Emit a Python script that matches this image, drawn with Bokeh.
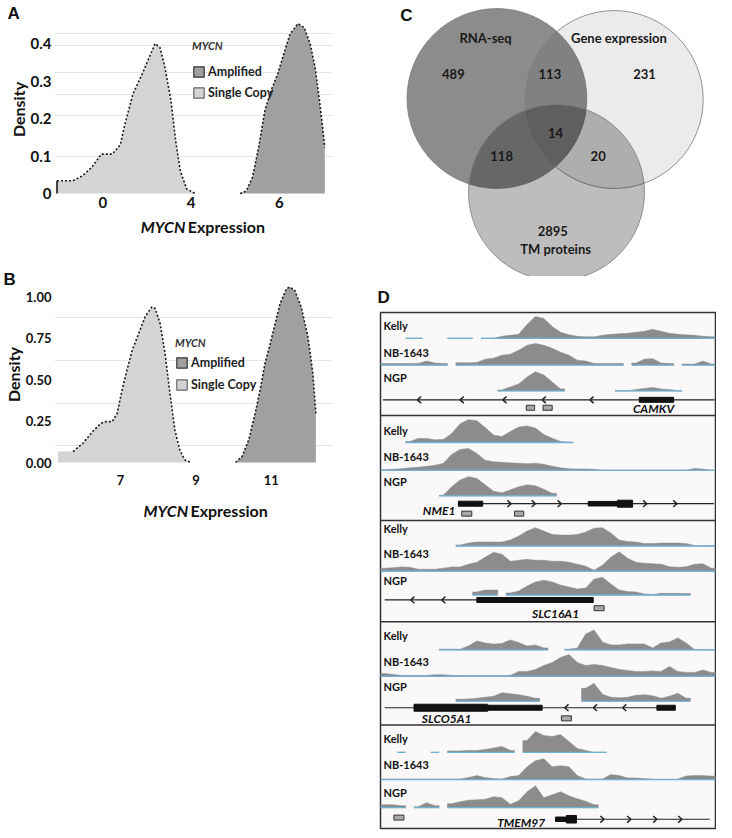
import math
from bokeh.plotting import figure
from bokeh.models import Range1d, FixedTicker, Legend, LegendItem, PrintfTickFormatter
from bokeh.layouts import row, column
from bokeh.embed import file_html
from bokeh.resources import INLINE
from bokeh.core.properties import value

FONT = "Lato"
LETTER_FONT = "Liberation Sans"
NAN = float("nan")

# ---------------- Panel A data (MYCN expression density) ----------------
A_SC_X = [-2.08, -2.08, -1.36, -0.93, -0.50, -0.07, 0.43, 0.79, 1.00, 1.36, 1.79, 2.08, 2.37, 2.58, 2.80, 3.08, 3.30, 3.51, 3.80, 4.09]
A_SC_Y = [0.0, 0.034, 0.034, 0.047, 0.070, 0.105, 0.105, 0.130, 0.185, 0.265, 0.320, 0.360, 0.400, 0.390, 0.340, 0.250, 0.140, 0.060, 0.012, 0.0]
A_AM_X = [5.11, 5.25, 5.39, 5.53, 5.67, 5.81, 5.96, 6.10, 6.24, 6.42, 6.56, 6.70, 6.81, 6.91, 6.98, 7.03, 7.03]
A_AM_Y = [0.0, 0.007, 0.043, 0.123, 0.220, 0.274, 0.318, 0.372, 0.425, 0.453, 0.443, 0.398, 0.336, 0.247, 0.176, 0.123, 0.0]
A_XTICKS = [0, 4, 6]
A_YTICKS = [0, 0.1, 0.2, 0.3, 0.4]
A_YGRID = [0.1, 0.208, 0.264, 0.323, 0.395, 0.427]

# ---------------- Panel B data ----------------
B_SC_X = [5.345, 5.345, 5.74, 6.0, 6.26, 6.48, 6.61, 6.78, 6.91, 7.04, 7.17, 7.31, 7.48, 7.65, 7.83, 7.92, 8.05, 8.18, 8.31, 8.44, 8.57, 8.70, 8.87]
B_SC_Y = [0.0, 0.066, 0.066, 0.116, 0.187, 0.237, 0.247, 0.247, 0.297, 0.438, 0.558, 0.679, 0.779, 0.880, 0.940, 0.930, 0.839, 0.659, 0.418, 0.197, 0.076, 0.016, 0.0]
B_AM_X = [10.05, 10.22, 10.40, 10.57, 10.70, 10.83, 10.97, 11.10, 11.23, 11.40, 11.49, 11.62, 11.79, 11.97, 12.10, 12.18, 12.18]
B_AM_Y = [0.0, 0.036, 0.137, 0.297, 0.438, 0.598, 0.719, 0.839, 0.960, 1.050, 1.060, 1.040, 0.940, 0.759, 0.538, 0.297, 0.0]
B_XTICKS = [7, 9, 11]
B_YTICKS = [0, 0.25, 0.5, 0.75, 1.0]
B_YGRID = [0.10, 0.356, 0.616, 0.877]

LEGEND_LABELS = ["Amplified", "Single Copy"]
AMP_COLOR = "#a0a0a0"
SC_COLOR = "#d4d4d4"

# ---------------- Panel C data (Venn) ----------------
VENN_SETS = ["RNA-seq", "Gene expression", "TM proteins"]
VENN_REGIONS = ["RNA only", "RNA+Gene", "Gene only", "all", "RNA+TM", "Gene+TM", "TM only"]
VENN_COUNTS = [489, 113, 231, 14, 118, 20, 2895]

# ---------------- Panel D data (coverage tracks, 40 bins) ----------------
N = None
CELL_LINES = ["Kelly", "NB-1643", "NGP"]
GENES = ["CAMKV", "NME1", "SLC16A1", "SLCO5A1", "TMEM97"]
TRACKS = [
    [  # CAMKV
        [N, N, N, 0, 0, N, N, N, 0, 0, 0, N, 0, 0, 2, 3, 4, 14, 22, 20, 12, 6, 3.5, 2, 1.5, 1.5, 3, 4, 4.5, 5, 6, 7, 9, 7, 5, 4, 3.5, 3, 2, 1.5],
        [1.5, 1.5, 1.5, 1.7, 1.7, 4, 2, 1.7, N, 2.3, 2.3, 2.5, 6, 7, 10, 11, 15, 20, 21.7, 20, 17, 13, 10, 5, 4, 1.7, 1.7, 1.7, 1.7, N, 2, 6, 6.5, 2, 1.5, N, 1, 1, 4, 1],
        [N, N, N, N, N, N, N, N, N, N, N, N, N, N, 1, 4, 7, 14, 19.3, 16, 9, 2, N, N, N, N, N, N, 0, 0, 1.5, 2.5, 3.5, 2, 1.5, 0, N, N, N, N],
    ],
    [  # NME1
        [N, N, N, 1, 4, 4, 2.7, 3, 9, 19, 23, 22, 15, 7.5, 6, 11, 15.5, 16.7, 14.5, 8, 4.3, 1, 0.3, N, N, N, N, N, N, N, N, N, N, N, N, N, N, N, N, N],
        [0.5, 1, 1.5, 2.5, 3, 4, 5, 7, 16, 21, 22, 17, 10, 8.5, 8, 7.5, 7, 6.7, 7, 6, 4, 2.5, 1.5, 1.3, 1.3, 1, 0, 0, 0, 0, 0, 0, 0, 0, 0, 0, 0, 1.7, 1.2, 0],
        [N, N, N, N, N, N, N, 0.5, 9, 16, 19.3, 17.5, 11, 4.5, 3, 6, 9, 11, 10, 6.5, 2.5, N, N, N, N, N, N, N, N, N, N, N, N, N, N, N, N, N, N, N],
    ],
    [  # SLC16A1
        [N, N, N, N, N, N, N, N, N, 1, 3, 4, 4, 4, 4, 6, 10, 15, 18.5, 15, 11.5, 11, 11, 11.5, 14, 18, 18.5, 13, 6, 4.5, 4, 2.5, 2.5, 3, 3, 3, 2.5, 0.5, 0, 0],
        [3, 3.5, 4.3, 4, 2, 2, 2, 3, 4.3, 4.3, 7, 9, 14, 19, 17, 10, 11, 12, 11, 11, 10, 10, 9, 7, 5, 1, 6, 14, 19.5, 13, 9, 8, 7.5, 7, 4.5, 4, 4.5, 7, 7.5, 3],
        [N, N, N, N, N, N, N, N, N, N, N, 3, 5, 5, N, 2, 4, 9, 13, 15, 13, 10, 8, 6, 7, 16, 18, 11, 5, 3.5, 3, 1, 0.5, 1.7, 1.7, 1.7, 1.5, N, N, N],
    ],
    [  # SLCO5A1
        [N, N, N, N, N, N, N, 0.7, 0.7, 0.7, 4, 9, 7, 6, 6.5, 10, 7.5, 4, 5, 2, N, N, 0.7, 2, 16, 20, 8, 5, 5, 6, 6, 6, 2, 7, 8, 12, 7, 0.5, 0, 0],
        [3, 2, 1, 1, 1, 1, 1.7, 1.7, 1, 0.8, 0.8, 0.8, 0.8, 0.8, 0.8, 1, 5, 5, 7, 11, 14, 19, 22, 14, 11, 12, 11, 9, 7, 6, 5, 5, 5.5, 5, 10, 5, 4, 4, 6.5, 4],
        [N, N, N, N, N, N, N, N, N, 2, 2.3, 3, 4, 5, 8.5, 7.5, 6.5, 5, 3, N, N, N, N, N, 13, 18, 7, 4, 3.5, 4, 6, 6.5, 5.5, 3, 5, 8, 3, N, N, N],
    ],
    [  # TMEM97
        [N, N, 0, N, N, N, 0, N, 1.5, 1.5, 2, 2, 3, 4.5, 6, 2, N, 12, 21, 17, 16, 18, 11, 4, 2, 0, 0, N, N, N, N, N, N, N, N, N, N, N, N, N],
        [0.7, 0.7, 0.7, 0.7, 0.7, 0.7, 0.7, 0.7, 0.7, 0.7, 2, 4, 2, 1, 0.7, 3, 4, 13, 19, 21, 13, 14, 13, 4, 0.7, 0.7, 0.7, 5, 4, 1.7, 1.5, 1, 0.5, 0.5, 0.5, 0.5, 3.5, 4, 4, 3.5],
        [3, 3, 2, N, 1, 5, 2, N, 4, 6, 7.5, 8, 8.5, 11, 10, 3.5, 7, 16, 22, 10, 13, 16, 12, 9, 6.5, 3, N, N, N, N, N, N, N, N, N, N, N, N, N, N],
    ],
]
GENE_LABEL_X = [32.6, 7.0, 20.9, 7.9, 16.8]
GENE_SPAN = [(0.3, 39.9), (9.3, 39.8), (0.5, 25.4), (0.5, 35.2), (20.9, 39.3)]
GENE_EXONS = [
    [(30.9, 35.0, 5)],
    [(9.3, 12.2, 5), (24.8, 28.3, 4.5), (28.3, 30.1, 7)],
    [(11.5, 25.4, 5)],
    [(4.0, 12.8, 7), (12.8, 19.3, 5), (33.0, 35.2, 5)],
    [(20.9, 22.2, 4.5), (22.2, 23.4, 7.5)],
]
GENE_STRAND = ["-", "+", "-", "-", "+"]
GENE_CHEVRONS = [[4.4, 9.5, 14.6, 19.3, 25.0], [15.6, 18.5, 21.6, 31.8, 35.4], [3.6, 7.3], [22.0, 25.4, 28.9], [26.7, 29.9, 33.0, 36.0]]
SITE_BOXES = [[(17.4, 18.4), (19.4, 20.5)], [(9.7, 10.9), (16.0, 17.1)], [(25.5, 26.7)], [(21.6, 22.8)], [(1.6, 2.8)]]

# ---------------- layout constants (page pixels) ----------------
D_SEP_REF = [415.7, 521.7, 623.7, 727.7]
D_BASE_REF = [[338, 365, 391], [443, 471, 496.7], [547.3, 572.7, 596.7], [652, 678.7, 703.7], [755.3, 782.7, 811]]
D_LABEL_Y_REF = [[325, 352, 377], [430.7, 457, 482], [530, 555, 581.7], [637, 663.7, 688.7], [741, 767.7, 796]]
D_GENE_Y_REF = [400, 504.7, 601.7, 710.3, 822.7]
D_GENE_LABEL_Y_REF = [409, 512, 615, 721, 826]
D_BOX_Y_REF = [408, 514.7, 610, 721, 821]


def style_axes(p, size):
    for ax in p.axis:
        ax.axis_line_color = None
        ax.major_tick_line_color = None
        ax.minor_tick_line_color = None
        ax.major_tick_out = 0
        ax.major_tick_in = 0
        ax.major_label_text_font = FONT
        ax.major_label_text_font_style = "bold"
        ax.major_label_text_font_size = size
        ax.major_label_text_color = "#111111"
        ax.axis_label_text_font = FONT
        ax.axis_label_text_font_style = "bold"
        ax.axis_label_text_font_size = "16px"
        ax.axis_label_text_color = "#111111"
        ax.axis_label_standoff = 0


def style_title(p, offset, standoff):
    p.title.align = "left"
    p.title.offset = offset
    p.title.standoff = standoff
    p.title.text_font = LETTER_FONT
    p.title.text_font_style = "bold"
    p.title.text_font_size = "17px"
    p.title.text_color = "#111111"


def add_legend(p, loc, spacing, title_standoff):
    ra = p.quad(left=[NAN], right=[NAN], top=[NAN], bottom=[NAN], fill_color=AMP_COLOR, line_color="#333333", line_width=1.2)
    rs = p.quad(left=[NAN], right=[NAN], top=[NAN], bottom=[NAN], fill_color=SC_COLOR, line_color="#666666", line_width=1.2)
    leg = Legend(items=[LegendItem(label=LEGEND_LABELS[0], renderers=[ra]),
                        LegendItem(label=LEGEND_LABELS[1], renderers=[rs])],
                 location=loc, title="MYCN")
    leg.title_text_font = FONT
    leg.title_text_font_style = "bold italic"
    leg.title_text_font_size = "11px"
    leg.title_text_color = "#333333"
    leg.title_standoff = title_standoff
    leg.label_text_font = FONT
    leg.label_text_font_style = "bold"
    leg.label_text_font_size = "12.5px"
    leg.label_text_color = "#222222"
    leg.glyph_width = 13
    leg.glyph_height = 13
    leg.label_height = 14
    leg.label_standoff = 3
    leg.spacing = spacing
    leg.padding = 0
    leg.margin = 0
    leg.border_line_color = None
    leg.background_fill_alpha = 0
    p.add_layout(leg)


def label_strip(y0, y1, split_x, base_y):
    s = figure(width=362, height=y1 - y0, output_backend="svg", toolbar_location=None,
               x_range=Range1d(8, 370), y_range=Range1d(y1, y0),
               x_axis_location=None, y_axis_location=None, min_border=0)
    s.outline_line_color = None
    s.grid.visible = False
    s.text(x=[split_x - 1.5], y=[base_y], text=["MYCN"], text_font=value(FONT), text_font_style="bold italic",
           text_font_size="16px", text_align="right", text_baseline="alphabetic", text_color="#111111")
    s.text(x=[split_x + 1.5], y=[base_y], text=["Expression"], text_font=value(FONT), text_font_style="bold",
           text_font_size="16px", text_align="left", text_baseline="alphabetic", text_color="#111111")
    return s


# ================= Panel A =================
A_X0, A_PXU, A_Y0, A_PXY = 105.0, 23.25, 193.0, 375.0


def a_u(x):  # the reference axis is stretched 2x beyond 4
    return x if x <= 4 else 4 + 2 * (x - 4)


def a_px(px):
    return (px - A_X0) / A_PXU


def a_py(py):
    return (A_Y0 - py) / A_PXY


pa = figure(width=362, height=215, output_backend="svg", toolbar_location=None, title="A",
            x_range=Range1d(a_px(54), a_px(347)), y_range=Range1d(a_py(196), a_py(22)),
            min_border_left=46, min_border_right=23, min_border_top=22, min_border_bottom=19)
pa.outline_line_color = None
style_title(pa, -47, 0)
style_axes(pa, "15px")
pa.yaxis.axis_label = "Density"
pa.xaxis.ticker = FixedTicker(ticks=[a_u(t) for t in A_XTICKS])
pa.xaxis.major_label_overrides = {a_u(t): str(t) for t in A_XTICKS}
pa.xaxis.major_label_standoff = 0
pa.yaxis.ticker = FixedTicker(ticks=A_YTICKS)
pa.yaxis.major_label_overrides = {t: ("0" if t == 0 else str(t)) for t in A_YTICKS}
pa.yaxis.major_label_standoff = 3
pa.xgrid.visible = False
pa.ygrid.ticker = FixedTicker(ticks=A_YGRID)
pa.ygrid.grid_line_color = "#dbe8ef"

ax_sc = [a_u(v) for v in A_SC_X]
ax_am = [a_u(v) for v in A_AM_X]
pa.varea(x=ax_sc, y1=[0] * len(ax_sc), y2=A_SC_Y, fill_color=SC_COLOR)
pa.varea(x=ax_am, y1=[0] * len(ax_am), y2=A_AM_Y, fill_color=AMP_COLOR)
pa.line(ax_sc[1:], A_SC_Y[1:], line_color="#1a1a1a", line_width=1.6, line_dash="2 2")
pa.line(ax_sc[:2], A_SC_Y[:2], line_color="#1a1a1a", line_width=1.6)
pa.line(ax_am[:-1], A_AM_Y[:-1], line_color="#1a1a1a", line_width=1.6, line_dash="2 2")
add_legend(pa, (138, 96), 6, 12)

sa = label_strip(215, 240, 180, 225.5)

# ================= Panel B =================
B_X0, B_PXU, B_Y0, B_PXY = 125.0, 38.25, 462.0, 165.5


def b_px(px):
    return 7 + (px - B_X0) / B_PXU


def b_py(py):
    return (B_Y0 - py) / B_PXY


pb = figure(width=362, height=254, output_backend="svg", toolbar_location=None, title="B",
            x_range=Range1d(b_px(58), b_px(340)), y_range=Range1d(b_py(464), b_py(284)),
            min_border_left=50, min_border_right=30, min_border_top=44, min_border_bottom=30)
pb.outline_line_color = None
style_title(pb, -51, -9)
style_axes(pb, "13px")
pb.yaxis.axis_label = "Density"
pb.xaxis.ticker = FixedTicker(ticks=B_XTICKS)
pb.xaxis.major_label_standoff = 10
pb.yaxis.ticker = FixedTicker(ticks=B_YTICKS)
pb.yaxis.formatter = PrintfTickFormatter(format="%.2f")
pb.yaxis.major_label_standoff = 3
pb.xgrid.visible = False
pb.ygrid.ticker = FixedTicker(ticks=B_YGRID)
pb.ygrid.grid_line_color = "#dbe8ef"

pb.varea(x=B_SC_X, y1=[0] * len(B_SC_X), y2=B_SC_Y, fill_color=SC_COLOR)
pb.varea(x=B_AM_X, y1=[0] * len(B_AM_X), y2=B_AM_Y, fill_color=AMP_COLOR)
pb.line(B_SC_X[2:], B_SC_Y[2:], line_color="#1a1a1a", line_width=1.6, line_dash="2 2")
pb.line(B_AM_X[:-1], B_AM_Y[:-1], line_color="#1a1a1a", line_width=1.6, line_dash="2 2")
add_legend(pb, (121, 72), 7, 6)

sb = label_strip(494, 520, 183.5, 510)

# ================= Panel C (Venn) =================
pc = figure(width=354, height=276, output_backend="svg", toolbar_location=None,
            x_range=Range1d(370, 724), y_range=Range1d(276, 0),
            x_axis_location=None, y_axis_location=None, min_border=0)
pc.outline_line_color = None
pc.grid.visible = False
VENN_CX = [493, 617, 556]
VENN_CY = [98, 99, 192]
VENN_R = [95, 94, 93]
VENN_ALPHA = [0.45, 0.08, 0.26]
pc.circle(x=VENN_CX, y=VENN_CY, radius=VENN_R, fill_color="black", fill_alpha=VENN_ALPHA,
          line_color="#7a7a7a", line_alpha=0.8, line_width=1)
pc.text(x=[481, 622], y=[37, 37], text=VENN_SETS[:2], text_font=value(FONT), text_font_style="bold",
        text_font_size="13px", text_align="center", text_baseline="middle", text_color="#1a1a1a")
reg_x = [447, 549, 649, 555, 498, 600, 552]
reg_y = [73, 73, 73, 132, 155, 155, 230]
pc.text(x=reg_x, y=reg_y, text=[str(c) for c in VENN_COUNTS], text_font=value(FONT), text_font_style="bold",
        text_font_size="13px", text_align="center", text_baseline="middle", text_color="#1a1a1a")
pc.text(x=[555], y=[248], text=[VENN_SETS[2]], text_font=value(FONT), text_font_style="bold",
        text_font_size="13px", text_align="center", text_baseline="middle", text_color="#1a1a1a")
pc.text(x=[391], y=[15], text=["C"], text_font=value(LETTER_FONT), text_font_style="bold",
        text_font_size="17px", text_align="left", text_baseline="middle", text_color="#111111")

# ================= Panel D (tracks) =================
D_TOP, D_BOT = 312.0, 828.0
SY = (D_BOT - D_TOP) / (832.0 - 312.0)


def dy(yref):
    return D_TOP + (yref - 312.0) * SY


pdd = figure(width=354, height=554, output_backend="svg", toolbar_location=None, title="D",
             x_range=Range1d(0, 40), y_range=Range1d(D_BOT, D_TOP),
             x_axis_location=None, y_axis_location=None,
             min_border_left=18, min_border_right=1, min_border_top=36, min_border_bottom=2)
style_title(pdd, -3, 12)
pdd.grid.visible = False
pdd.outline_line_color = "#333333"
pdd.outline_line_width = 1.5
pdd.background_fill_color = "#faf8f8"


def runs(vals):
    out, cur = [], []
    for i, v in enumerate(vals):
        if v is None:
            if cur:
                out.append(cur)
                cur = []
        else:
            cur.append(i)
    if cur:
        out.append(cur)
    return out


pxs, pys, lxs, lys = [], [], [], []
lab_x, lab_y, lab_t = [], [], []
for k, panel in enumerate(TRACKS):
    for t, vals in enumerate(panel):
        base = dy(D_BASE_REF[k][t])
        for r in runs(vals):
            xs = [r[0]] + [i + 0.5 for i in r] + [r[-1] + 1]
            hs = [vals[r[0]]] + [vals[i] for i in r] + [vals[r[-1]]]
            top = [base - h * SY for h in hs]
            pxs.append(xs + xs[::-1])
            pys.append(top + [base] * len(xs))
            lxs.append([xs[0], xs[-1]])
            lys.append([base, base])
        lab_x.append(0.36)
        lab_y.append(dy(D_LABEL_Y_REF[k][t]))
        lab_t.append(CELL_LINES[t])

pdd.patches(xs=pxs, ys=pys, fill_color="#8c8c8c", line_color="#8c8c8c", line_width=0.5)
pdd.multi_line(xs=lxs, ys=lys, line_color="#6cb2d4", line_width=1.3)
pdd.text(x=lab_x, y=lab_y, text=lab_t, text_font=value(FONT), text_font_style="bold",
         text_font_size="11px", text_align="left", text_baseline="middle", text_color="#111111")

gx0, gy0, gx1, gy1 = [], [], [], []
el, er, et, eb = [], [], [], []
bl, br, bt, bb = [], [], [], []
cx0, cy0, cx1, cy1 = [], [], [], []
for k in range(len(GENES)):
    gy = dy(D_GENE_Y_REF[k])
    gx0.append(GENE_SPAN[k][0]); gx1.append(GENE_SPAN[k][1]); gy0.append(gy); gy1.append(gy)
    for (a, b, h) in GENE_EXONS[k]:
        el.append(a); er.append(b); et.append(gy - h / 2); eb.append(gy + h / 2)
    by = dy(D_BOX_Y_REF[k])
    for (a, b) in SITE_BOXES[k]:
        bl.append(a); br.append(b); bt.append(by - 2.5); bb.append(by + 2.5)
    d = 0.45 if GENE_STRAND[k] == "-" else -0.45
    for c in GENE_CHEVRONS[k]:
        for s in (-3.3, 3.3):
            cx0.append(c); cy0.append(gy); cx1.append(c + d); cy1.append(gy + s)

pdd.segment(x0=gx0, y0=gy0, x1=gx1, y1=gy1, line_color="#222222", line_width=1.2)
pdd.segment(x0=cx0, y0=cy0, x1=cx1, y1=cy1, line_color="#222222", line_width=1.5)
pdd.quad(left=el, right=er, top=et, bottom=eb, fill_color="#111111", line_color="#111111")
pdd.quad(left=bl, right=br, top=bt, bottom=bb, fill_color="#a9a9a9", line_color="#333333", line_width=1)
pdd.text(x=GENE_LABEL_X, y=[dy(v) for v in D_GENE_LABEL_Y_REF], text=GENES, text_font=value(FONT),
         text_font_style="bold italic", text_font_size="12px", text_align="center", text_baseline="middle",
         text_color="#111111")
pdd.segment(x0=[0] * 4, y0=[dy(v) for v in D_SEP_REF], x1=[40] * 4, y1=[dy(v) for v in D_SEP_REF],
            line_color="#333333", line_width=1.5)

layout = row(column(pa, sa, pb, sb), column(pc, pdd))
open("out.html", "w").write(file_html(layout, INLINE))
